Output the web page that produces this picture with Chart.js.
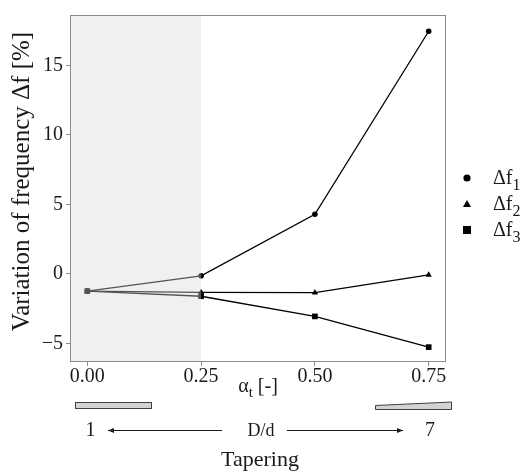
<!DOCTYPE html>
<html>
<head>
<meta charset="utf-8">
<script src="https://cdn.jsdelivr.net/npm/chart.js@4.4.1/dist/chart.umd.min.js"></script>
<style>
  html, body { margin: 0; padding: 0; background: #ffffff; }
  #wrap { width: 525px; height: 476px; position: relative; }
</style>
</head>
<body>
<div id="wrap"><canvas id="c" width="525" height="476"></canvas></div>
<script>
// ---- data ----
const alphaT = [0, 0.25, 0.5, 0.75];
const df1 = [-1.24, -0.14, 4.29, 17.45];
const df2 = [-1.24, -1.33, -1.35, -0.07];
const df3 = [-1.24, -1.61, -3.06, -5.27];
const seriesBase = ['Δf', 'Δf', 'Δf'];
const seriesSub = ['1', '2', '3'];
const yTicks = [-5, 0, 5, 10, 15];
const xTicks = [0, 0.25, 0.5, 0.75];
const shadeEnd = 0.25;
const yTitle = 'Variation of frequency Δf [%]';
const xTitleBase = 'α';
const xTitleSub = 't';
const xTitleRest = ' [-]';
const ratioLeft = '1';
const ratioRight = '7';
const ratioLabel = 'D/d';
const bottomTitle = 'Tapering';

const FONT = "'Liberation Serif', 'Times New Roman', serif";
const pointStyles = ['circle', 'triangle', 'rect'];
const pointRadii = [2.8, 3.6, 4.0];

function toXY(xs, ys) { return xs.map((x, i) => ({ x: x, y: ys[i] })); }

const seriesValues = [df1, df2, df3];
const datasets = seriesValues.map((vals, i) => ({
  label: seriesBase[i] + seriesSub[i],
  data: toXY(alphaT, vals),
  borderColor: '#000000',
  backgroundColor: '#000000',
  borderWidth: 1.3,
  pointStyle: pointStyles[i],
  pointRadius: pointRadii[i],
  pointBorderWidth: 0,
  pointBackgroundColor: '#000000',
  tension: 0,
  fill: false
}));

function drawSubText(ctx, base, sub, x, y, size, subSize, align) {
  ctx.font = size + 'px ' + FONT;
  const wb = ctx.measureText(base).width;
  ctx.font = subSize + 'px ' + FONT;
  const ws = ctx.measureText(sub).width;
  let x0 = x;
  if (align === 'center') x0 = x - (wb + ws) / 2;
  ctx.textAlign = 'left';
  ctx.textBaseline = 'alphabetic';
  ctx.font = size + 'px ' + FONT;
  ctx.fillText(base, x0, y);
  ctx.font = subSize + 'px ' + FONT;
  ctx.fillText(sub, x0 + wb, y + size * 0.28);
  return x0 + wb + ws;
}

function arrow(ctx, x1, x2, y) {
  ctx.beginPath();
  ctx.moveTo(x1, y); ctx.lineTo(x2, y);
  ctx.stroke();
  const d = x2 > x1 ? 1 : -1;
  ctx.beginPath();
  ctx.moveTo(x2, y);
  ctx.lineTo(x2 - d * 6, y - 2.5);
  ctx.lineTo(x2 - d * 6, y + 2.5);
  ctx.closePath();
  ctx.fill();
}

const deco = {
  id: 'deco',
  afterDatasetsDraw(chart) {
    const { ctx, chartArea: a, scales } = chart;
    const xs = scales.x.getPixelForValue(shadeEnd);
    ctx.save();
    ctx.fillStyle = 'rgba(217,217,217,0.39)';
    ctx.fillRect(a.left, a.top, xs - a.left, a.bottom - a.top);
    ctx.strokeStyle = '#8a8a8a';
    ctx.lineWidth = 1;
    ctx.strokeRect(Math.round(a.left) + 0.5, Math.round(a.top) + 0.5,
      Math.round(a.right - a.left) - 1, Math.round(a.bottom - a.top) - 1);
    ctx.restore();
  },
  afterDraw(chart) {
    const { ctx, chartArea: a } = chart;
    const cx = (a.left + a.right) / 2;
    ctx.save();
    ctx.fillStyle = '#1a1a1a';
    // y title
    ctx.save();
    ctx.translate(22, (a.top + a.bottom) / 2 - 7);
    ctx.rotate(-Math.PI / 2);
    ctx.textAlign = 'center';
    ctx.textBaseline = 'middle';
    ctx.font = '25px ' + FONT;
    ctx.fillText(yTitle, 0, 0);
    ctx.restore();
    // x title
    ctx.font = '20px ' + FONT;
    const wb = ctx.measureText(xTitleBase).width;
    const wr = ctx.measureText(xTitleRest).width;
    ctx.font = '15px ' + FONT;
    const ws = ctx.measureText(xTitleSub).width;
    let x0 = cx - (wb + ws + wr) / 2;
    const ty = a.bottom + 30;
    ctx.textAlign = 'left';
    ctx.textBaseline = 'alphabetic';
    ctx.font = '20px ' + FONT;
    ctx.fillText(xTitleBase, x0, ty);
    ctx.font = '15px ' + FONT;
    ctx.fillText(xTitleSub, x0 + wb, ty + 5);
    ctx.font = '20px ' + FONT;
    ctx.fillText(xTitleRest, x0 + wb + ws, ty);
    // shapes
    ctx.fillStyle = '#d3d3d3';
    ctx.strokeStyle = '#404040';
    ctx.lineWidth = 1;
    ctx.fillRect(75.5, 402.5, 76, 6);
    ctx.strokeRect(75.5, 402.5, 76, 6);
    ctx.beginPath();
    ctx.moveTo(375.5, 405.5);
    ctx.lineTo(451.5, 402.0);
    ctx.lineTo(451.5, 409.5);
    ctx.lineTo(375.5, 409.5);
    ctx.closePath();
    ctx.fill();
    ctx.stroke();
    // ratio row
    ctx.fillStyle = '#1a1a1a';
    ctx.strokeStyle = '#1a1a1a';
    ctx.textAlign = 'center';
    ctx.textBaseline = 'middle';
    ctx.font = '20px ' + FONT;
    ctx.fillText(ratioLeft, 90.5, 431);
    ctx.fillText(ratioRight, 430, 431);
    ctx.font = '18px ' + FONT;
    ctx.fillText(ratioLabel, cx + 3, 431);
    ctx.lineWidth = 1;
    arrow(ctx, 222, 108, 430.5);
    arrow(ctx, 287, 403, 430.5);
    ctx.font = '22px ' + FONT;
    ctx.fillText(bottomTitle, cx + 2, 460);
    // legend
    const rows = [178, 204, 230];
    for (let i = 0; i < 3; i++) {
      const my = rows[i];
      ctx.fillStyle = '#000000';
      ctx.beginPath();
      if (pointStyles[i] === 'circle') {
        ctx.arc(467, my, 3.6, 0, Math.PI * 2);
      } else if (pointStyles[i] === 'triangle') {
        ctx.moveTo(467, my - 4); ctx.lineTo(471, my + 3); ctx.lineTo(463, my + 3); ctx.closePath();
      } else {
        ctx.rect(463, my - 4, 8, 8);
      }
      ctx.fill();
      ctx.fillStyle = '#1a1a1a';
      drawSubText(ctx, seriesBase[i], seriesSub[i], 493, my + 6, 20, 16, 'left');
    }
    ctx.restore();
  }
};

new Chart(document.getElementById('c'), {
  type: 'line',
  data: { datasets: datasets },
  plugins: [deco],
  options: {
    responsive: false,
    animation: false,
    devicePixelRatio: 1,
    layout: { padding: { top: 5, right: 79, bottom: 0, left: 0 } },
    plugins: { legend: { display: false }, tooltip: { enabled: false } },
    scales: {
      x: {
        type: 'linear',
        min: -0.038, max: 0.788,
        afterBuildTicks: (s) => { s.ticks = xTicks.map(v => ({ value: v })); },
        afterFit: (s) => { s.height = 114; },
        border: { display: false },
        grid: { drawOnChartArea: false, drawTicks: true, tickLength: 4, color: '#8a8a8a', tickWidth: 1 },
        ticks: {
          color: '#1a1a1a', padding: -1, maxRotation: 0,
          font: { family: FONT, size: 20 },
          callback: (v) => Number(v).toFixed(2)
        }
      },
      y: {
        type: 'linear',
        min: -6.34, max: 18.62,
        afterBuildTicks: (s) => { s.ticks = yTicks.map(v => ({ value: v })); },
        afterFit: (s) => { s.width = 70; },
        border: { display: false },
        grid: { drawOnChartArea: false, drawTicks: true, tickLength: 4, color: '#8a8a8a', tickWidth: 1 },
        ticks: {
          color: '#1a1a1a', padding: 3,
          font: { family: FONT, size: 20 },
          callback: (v) => (v < 0 ? '\u2212' + Math.abs(v) : String(v))
        }
      }
    }
  }
});
</script>
</body>
</html>
